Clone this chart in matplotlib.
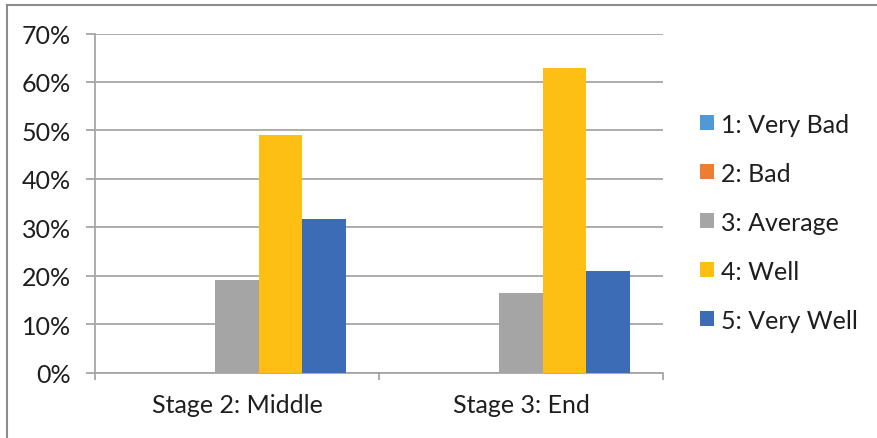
import matplotlib
matplotlib.use("Agg")
import matplotlib.pyplot as plt
import matplotlib.ticker as mticker
from matplotlib.patches import Patch
from matplotlib.lines import Line2D
import numpy as np

# ── Data ────────────────────────────────────────────────────
stages = ["Stage 2: Middle", "Stage 3: End"]
ratings = ["1: Very Bad", "2: Bad", "3: Average", "4: Well", "5: Very Well"]
very_bad  = [0.0, 0.0]
bad       = [0.0, 0.0]
average   = [0.19, 0.164]
well      = [0.49, 0.629]
very_well = [0.318, 0.21]

series = [very_bad, bad, average, well, very_well]
colors = ["#4F9AD6", "#ED7D31", "#A5A5A5", "#FDBF14", "#3C6CB6"]

plt.rcParams["font.family"] = ["Lato", "DejaVu Sans"]
grid_col = "#a6a6a6"
fs = 18

# ── Figure ──────────────────────────────────────────────────
fig = plt.figure(figsize=(8.78, 4.39), dpi=100)
ax = fig.add_axes([0.1082, 0.1492, 0.6469, 0.7722])

x = np.arange(len(stages))
width = 0.153
for i, (vals, col) in enumerate(zip(series, colors)):
    ax.bar(x + (i - 2) * width, vals, width=width, color=col,
           label=ratings[i], zorder=3)

ax.set_xlim(-0.5, 1.5)
ax.set_ylim(0, 0.7)
ax.yaxis.set_major_locator(mticker.MultipleLocator(0.1))
ax.yaxis.set_major_formatter(mticker.FuncFormatter(lambda v, _: f"{v*100:.0f}%"))
ax.set_xticks(x)
ax.set_xticklabels(stages)
ax.xaxis.set_minor_locator(mticker.FixedLocator([-0.5, 0.5, 1.5]))

ax.grid(axis="y", color=grid_col, linewidth=1.3, zorder=0)
for side in ["top", "right"]:
    ax.spines[side].set_visible(False)
for side in ["left", "bottom"]:
    ax.spines[side].set_color(grid_col)
    ax.spines[side].set_linewidth(1.3)

ax.tick_params(axis="y", length=6.5, width=1.3, color=grid_col, pad=11,
               labelsize=fs, labelcolor="#1e1e1e")
ax.tick_params(axis="x", which="major", length=0, pad=15,
               labelsize=fs, labelcolor="#1e1e1e")
ax.tick_params(axis="x", which="minor", length=5, width=1.3, color=grid_col)

# legend
handles = [Patch(facecolor=c, edgecolor="none") for c in colors]
fig.legend(handles, ratings, loc="center left", bbox_to_anchor=(0.797, 0.492),
           frameon=False, fontsize=fs, handlelength=0.58, handleheight=0.58,
           handletextpad=0.25, labelspacing=1.04, labelcolor="#1e1e1e",
           borderaxespad=0, borderpad=0)

# outer border (top and left visible)
fig.add_artist(Line2D([0.008, 1.0], [0.9863, 0.9863], color="#8c8c8c",
                      linewidth=1.5, transform=fig.transFigure))
fig.add_artist(Line2D([0.008, 0.008], [0.0, 0.9863], color="#8c8c8c",
                      linewidth=1.5, transform=fig.transFigure))

fig.savefig("out.png", dpi=100)
